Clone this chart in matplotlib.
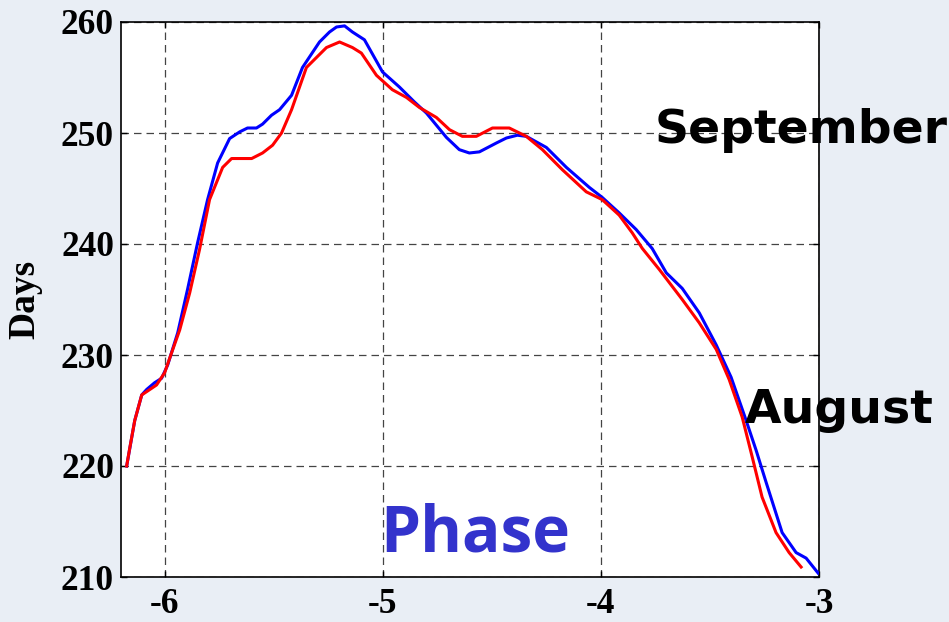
import numpy as np
import matplotlib.pyplot as plt

# blue curve
blue_x = [-6.174, -6.137, -6.105, -6.082, -6.046, -6.014, -5.986, -5.940, -5.895, -5.849,
          -5.803, -5.757, -5.702, -5.656, -5.620, -5.579, -5.551, -5.510, -5.473, -5.418,
          -5.368, -5.290, -5.244, -5.212, -5.175, -5.139, -5.084, -5.001, -4.924, -4.855,
          -4.800, -4.708, -4.649, -4.603, -4.557, -4.479, -4.433, -4.383, -4.342, -4.250,
          -4.158, -4.053, -3.994, -3.916, -3.838, -3.765, -3.700, -3.627, -3.549, -3.471,
          -3.403, -3.334, -3.288, -3.242, -3.169, -3.105, -3.059, -3.004]
blue_y = [220.0, 224.1, 226.4, 226.9, 227.5, 227.9, 229.1, 232.0, 235.9, 240.1,
          244.0, 247.3, 249.5, 250.1, 250.45, 250.45, 250.8, 251.6, 252.1, 253.4,
          255.9, 258.2, 259.1, 259.55, 259.65, 259.1, 258.4, 255.5, 254.15, 252.8,
          251.8, 249.6, 248.5, 248.2, 248.3, 249.1, 249.55, 249.8, 249.7, 248.7,
          246.9, 245.1, 244.2, 242.8, 241.3, 239.6, 237.4, 236.0, 233.8, 230.9,
          228.0, 224.1, 221.4, 218.5, 214.0, 212.2, 211.7, 210.35]

# red curve
red_x = [-6.174, -6.160, -6.137, -6.105, -6.037, -6.000, -5.968, -5.931, -5.885, -5.840,
         -5.794, -5.734, -5.693, -5.601, -5.551, -5.505, -5.464, -5.418, -5.350, -5.258,
         -5.198, -5.139, -5.098, -5.029, -4.956, -4.891, -4.832, -4.754, -4.694, -4.635,
         -4.571, -4.497, -4.420, -4.342, -4.268, -4.177, -4.067, -3.994, -3.916, -3.856,
         -3.810, -3.732, -3.627, -3.549, -3.471, -3.412, -3.352, -3.306, -3.261, -3.197,
         -3.137, -3.082]
red_y = [220.0, 221.6, 224.1, 226.4, 227.3, 228.4, 230.2, 232.25, 235.6, 239.5,
         244.0, 246.9, 247.7, 247.7, 248.2, 248.9, 250.0, 252.1, 255.9, 257.7,
         258.2, 257.7, 257.2, 255.2, 253.9, 253.2, 252.3, 251.4, 250.3, 249.7,
         249.7, 250.45, 250.45, 249.7, 248.5, 246.7, 244.7, 244.0, 242.6, 241.0,
         239.6, 237.7, 235.0, 232.9, 230.5, 227.8, 224.4, 220.8, 217.2, 214.0,
         212.2, 210.9]

x_ticks = [-6, -5, -4, -3]
y_ticks = [210, 220, 230, 240, 250, 260]

fig = plt.figure(figsize=(9.49, 6.22), dpi=100, facecolor='#e9eef5')
ax = fig.add_axes([121 / 949, 1 - 577 / 622, (819 - 121) / 949, (577 - 22) / 622])
ax.set_facecolor('white')

ax.plot(blue_x, blue_y, color='#0000ff', lw=2.2, zorder=3)
ax.plot(red_x, red_y, color='#ff0000', lw=2.2, zorder=4)

ax.set_xlim(-6.2, -3.0)
ax.set_ylim(210, 260)
ax.set_xticks(x_ticks)
ax.set_yticks(y_ticks)
ax.grid(True, color='#444444', lw=0.9, ls=(0, (6, 4)))

tick_font = dict(family='Liberation Serif', weight='bold', size=25.5)
ax.set_xticklabels([str(v) for v in x_ticks], fontdict=tick_font)
ax.set_yticklabels([str(v) for v in y_ticks], fontdict=tick_font)
ax.tick_params(direction='in', length=4, width=1, top=True, right=True, pad=5)
ax.tick_params(axis='x', pad=8)
for s in ax.spines.values():
    s.set_linewidth(1.2)

ax.set_ylabel('Days', family='Liberation Serif', weight='bold', size=27)
ax.yaxis.set_label_coords(-0.112, 0.5)

fig.text(655 / 949, 1 - 143 / 622, 'September', family='DejaVu Sans', weight='bold',
         size=34, color='black', va='baseline', ha='left')
fig.text(745 / 949, 1 - 423 / 622, 'August', family='DejaVu Sans', weight='bold',
         size=34, color='black', va='baseline', ha='left')
fig.text(380 / 949, 1 - 552 / 622, 'Phase', family='Open Sans', weight='bold',
         size=46, color='#3333cc', va='baseline', ha='left')

fig.savefig('out.png', dpi=100, facecolor=fig.get_facecolor())
